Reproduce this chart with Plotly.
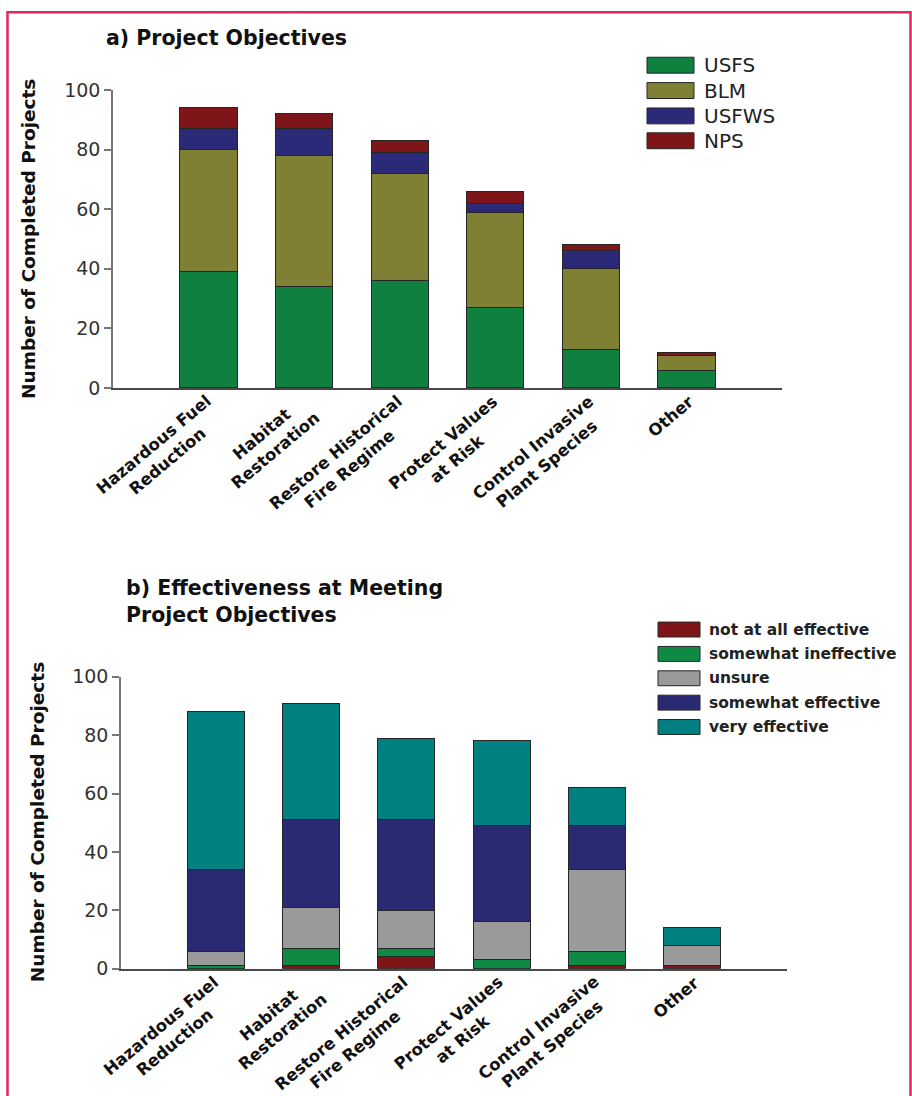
import plotly.graph_objects as go

# ---- data -------------------------------------------------------------
categories = [
    "Hazardous Fuel<br>Reduction",
    "Habitat<br>Restoration",
    "Restore Historical<br>Fire Regime",
    "Protect Values<br>at Risk",
    "Control Invasive<br>Plant Species",
    "Other",
]

# a) completed projects by agency
agencies = ["USFS", "BLM", "USFWS", "NPS"]
usfs = [39, 34, 36, 27, 13, 6]
blm = [41, 44, 36, 32, 27, 5]
usfws = [7, 9, 7, 3, 6, 0]
nps = [7, 5, 4, 4, 2, 1]

# b) effectiveness ratings
ratings = ["not at all effective", "somewhat ineffective", "unsure",
           "somewhat effective", "very effective"]
not_at_all = [0, 1, 4, 0, 1, 1]
somewhat_ineffective = [1, 6, 3, 3, 5, 0]
unsure = [5, 14, 13, 13, 28, 7]
somewhat_effective = [28, 30, 31, 33, 15, 0]
very_effective = [54, 40, 28, 29, 13, 6]

y_ticks = [0, 20, 40, 60, 80, 100]

# ---- styling ----------------------------------------------------------
W, H = 912, 1096
agency_colors = ["#0f8040", "#808034", "#2a2a78", "#7e1619"]
rating_colors = ["#7e1619", "#0f8a45", "#9a9a9a", "#2a2a72", "#008080"]
OUTLINE = "#262626"
FONT = "DejaVu Sans"

# vertical placement factor for the page layout
Y_OFF, Y_SCALE = 8.0, 0.9854


def px_x(x):
    return x / W


def px_y(y):
    return 1 - ((y - Y_OFF) / Y_SCALE) / H


fig = go.Figure()

top_series = [usfs, blm, usfws, nps]
for name, vals, col in zip(agencies, top_series, agency_colors):
    fig.add_trace(go.Bar(
        x=categories, y=vals, name=name, xaxis="x", yaxis="y",
        width=0.6, marker=dict(color=col, line=dict(color=OUTLINE, width=1)),
        showlegend=False,
    ))

bottom_series = [not_at_all, somewhat_ineffective, unsure,
                 somewhat_effective, very_effective]
for name, vals, col in zip(ratings, bottom_series, rating_colors):
    fig.add_trace(go.Bar(
        x=categories, y=vals, name=name, xaxis="x2", yaxis="y2",
        width=0.6, marker=dict(color=col, line=dict(color=OUTLINE, width=1)),
        showlegend=False,
    ))

# panel geometry in pixels
top = dict(x0=113, x1=782, y0=387, y1=87.5)
bot = dict(x0=121, x1=787, y0=971, y1=677.5)

yaxis_common = dict(
    range=[0, 100], tickvals=y_ticks, ticks="outside", ticklen=7,
    tickcolor="#777777", tickwidth=1.5, showline=True, linecolor="#777777",
    linewidth=1.5, showgrid=False, zeroline=False,
    tickfont=dict(family=FONT, size=19, color="#333333"),
)
xaxis_common = dict(
    range=[-1, 6], showline=True, linecolor="#4a4a4a", linewidth=2,
    showticklabels=False, ticks="", showgrid=False, zeroline=False,
)

fig.update_layout(
    width=W, height=H,
    margin=dict(l=0, r=0, t=0, b=0),
    paper_bgcolor="white", plot_bgcolor="white",
    barmode="stack",
    xaxis=dict(domain=[px_x(top["x0"]), px_x(top["x1"])], anchor="y", **xaxis_common),
    yaxis=dict(domain=[px_y(top["y0"]), px_y(top["y1"])], anchor="x", **yaxis_common),
    xaxis2=dict(domain=[px_x(bot["x0"]), px_x(bot["x1"])], anchor="y2", **xaxis_common),
    yaxis2=dict(domain=[px_y(bot["y0"]), px_y(bot["y1"])], anchor="x2", **yaxis_common),
)

annotations = []
shapes = []

# panel titles
annotations.append(dict(
    text="<b>a) Project Objectives</b>", xref="paper", yref="paper",
    x=px_x(104), y=px_y(21), xanchor="left", yanchor="top", showarrow=False,
    align="left", font=dict(family=FONT, size=20.5, color="#111111"),
))
annotations.append(dict(
    text="<b>b) Effectiveness at Meeting<br>Project Objectives</b>",
    xref="paper", yref="paper",
    x=px_x(124), y=px_y(574), xanchor="left", yanchor="top", showarrow=False,
    align="left", font=dict(family=FONT, size=20.5, color="#111111"),
))

# y-axis titles
for cx, geo in ((29, top), (37.5, bot)):
    annotations.append(dict(
        text="<b>Number of Completed Projects</b>", xref="paper", yref="paper",
        x=px_x(cx), y=px_y((geo["y0"] + geo["y1"]) / 2), xanchor="center",
        yanchor="middle", textangle=-90, showarrow=False,
        font=dict(family=FONT, size=18.5, color="#111111"),
    ))

# rotated category labels under each panel
for xref, geo in (("x", top), ("x2", bot)):
    for i, cat in enumerate(categories):
        n_lines = cat.count("<br>") + 1
        annotations.append(dict(
            text="<b>" + cat + "</b>", xref=xref, yref="paper",
            x=i, y=px_y(geo["y0"] + 1), xanchor="right", yanchor="top",
            xshift=8 * n_lines + 6, textangle=-40, align="center",
            showarrow=False,
            font=dict(family=FONT, size=16.5, color="#111111"),
        ))


# legends drawn as swatch + label rows
def add_legend(names, colors, sx0, sx1, row_centers, sh, tx, fsize, bold):
    for name, col, cy in zip(names, colors, row_centers):
        shapes.append(dict(
            type="rect", xref="paper", yref="paper",
            x0=px_x(sx0), x1=px_x(sx1), y0=px_y(cy + sh / 2), y1=px_y(cy - sh / 2),
            fillcolor=col, line=dict(color=OUTLINE, width=1),
        ))
        label = "<b>" + name + "</b>" if bold else name
        annotations.append(dict(
            text=label, xref="paper", yref="paper", x=px_x(tx), y=px_y(cy),
            xanchor="left", yanchor="middle", showarrow=False,
            font=dict(family=FONT, size=fsize, color="#222222"),
        ))


add_legend(agencies, agency_colors, 647, 694, [62.5, 88, 113.5, 138.5], 16, 702, 20, False)
add_legend(ratings, rating_colors, 658, 700, [630, 654.5, 679, 703.5, 728], 15, 707, 15.5, True)

# frame around the figure
shapes.append(dict(
    type="rect", xref="paper", yref="paper",
    x0=px_x(7.5), x1=px_x(910.5), y0=-0.02, y1=px_y(9.3),
    line=dict(color="#e5265a", width=2.5), fillcolor="rgba(0,0,0,0)",
))

fig.update_layout(annotations=annotations, shapes=shapes)
fig.write_html("out.html")
